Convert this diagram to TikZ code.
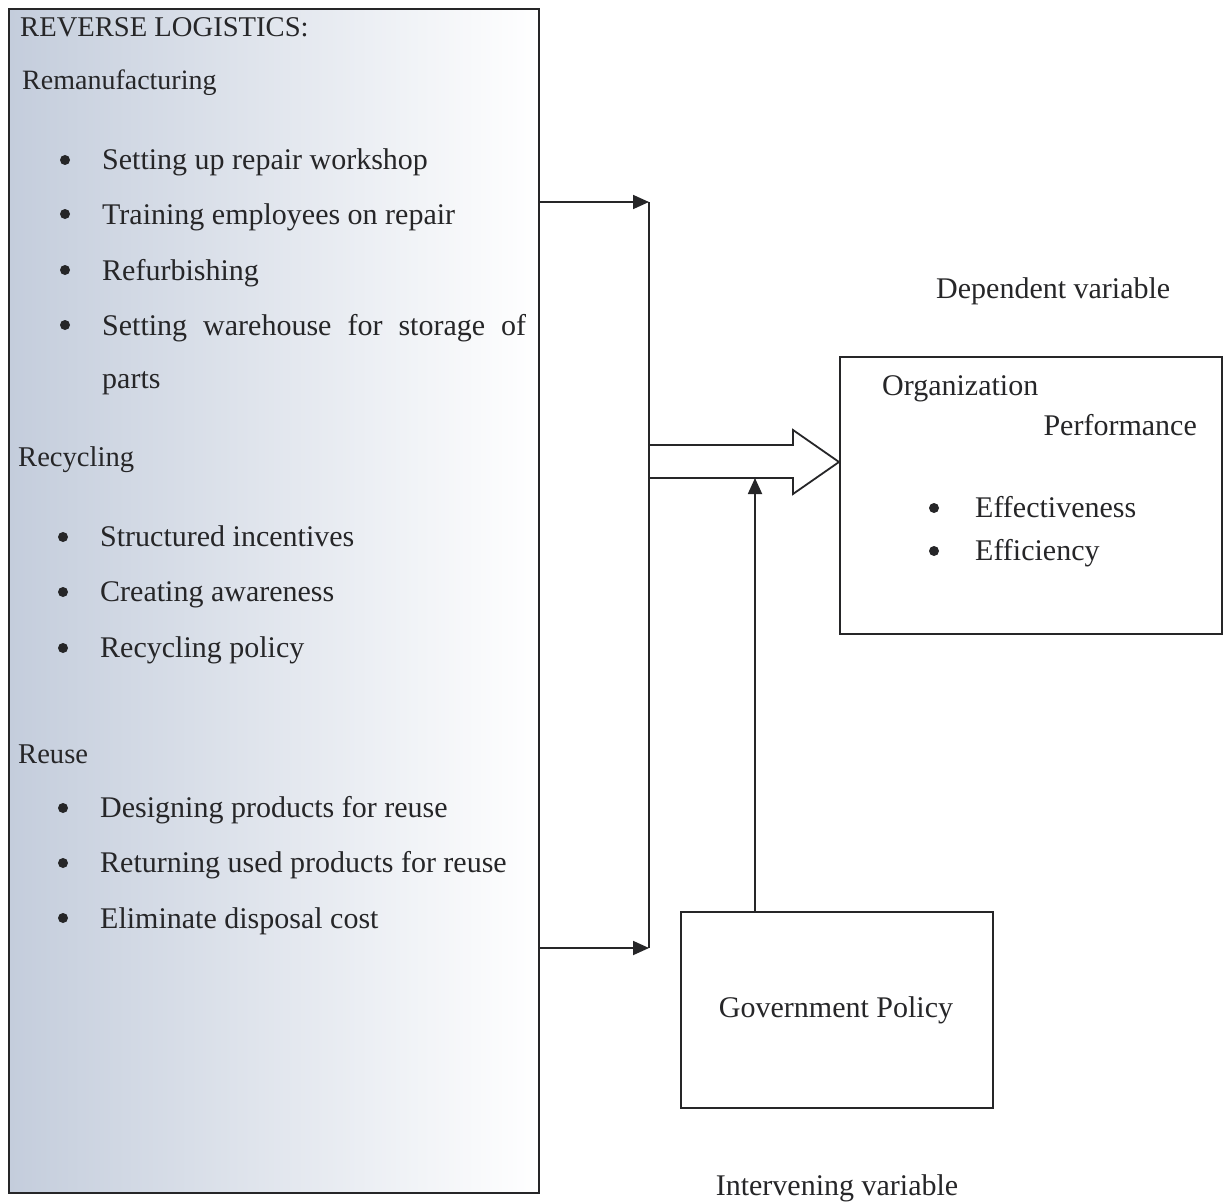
\documentclass[tikz,border=0pt]{standalone}
\usepackage{fontspec}
\setmainfont{Liberation Serif}
\usetikzlibrary{arrows.meta}
\definecolor{inkc}{RGB}{38,38,40}
\definecolor{shadeL}{RGB}{196,205,220}
\definecolor{shadeM}{RGB}{232,237,247}
\begin{document}
\begin{tikzpicture}[x=1pt,y=-1pt,
  line/.style={draw=inkc, line width=1.8pt},
  arr/.style={line, -{Triangle[length=16pt,width=14pt]}},
  txt/.style={anchor=base west, inner sep=0pt, font=\fontsize{30}{36}\selectfont, text=inkc},
  head/.style={txt, font=\fontsize{28.6}{34}\selectfont},
  bul/.style={circle, fill=inkc, inner sep=0pt, minimum size=10pt},
  boxst/.style={draw=inkc, line width=1.8pt, inner sep=0pt, anchor=north west}]
\useasboundingbox (0,0) rectangle (1224,1204);
\fill[white] (0,0) rectangle (1224,1204);

% left box
\node[boxst, minimum width=530pt, minimum height=1184pt,
  left color=shadeL, middle color=shadeM, right color=white] (L) at (8,8) {};
% right box
\node[boxst, minimum width=382pt, minimum height=277pt] (R) at (839,356) {};
% government box
\node[boxst, minimum width=312pt, minimum height=196pt] (G) at (680,911) {};

% left texts
\node[head] (t0) at (20,37) {REVERSE LOGISTICS:};
\node[head, font=\fontsize{28}{34}\selectfont] (t1) at (22,90) {Remanufacturing};
\node[bul] (b1) at (65,160) {}; \node[txt] (t2) at (102,170) {Setting up repair workshop};
\node[bul] (b2) at (65,214) {}; \node[txt] (t3) at (102,224) {Training employees on repair};
\node[bul] (b3) at (65,270) {}; \node[txt] (t4) at (102,280) {Refurbishing};
\node[bul] (b4) at (65,325) {}; \node[txt] (t5) at (102,335) {\makebox[424pt][s]{Setting warehouse for storage of}};
\node[txt] (t6) at (102,388) {parts};
\node[head] (t7) at (18,466) {Recycling};
\node[bul] (b5) at (63,537) {}; \node[txt] (t8) at (100,546) {Structured incentives};
\node[bul] (b6) at (63,592) {}; \node[txt] (t9) at (100,601) {Creating awareness};
\node[bul] (b7) at (63,648) {}; \node[txt] (t10) at (100,657) {Recycling policy};
\node[head] (t11) at (18,763) {Reuse};
\node[bul] (b8) at (63,808) {}; \node[txt] (t12) at (100,817) {Designing products for reuse};
\node[bul] (b9) at (63,863) {}; \node[txt] (t13) at (100,872) {Returning used products for reuse};
\node[bul] (b10) at (63,918) {}; \node[txt] (t14) at (100,928) {Eliminate disposal cost};

% right texts
\node[txt] (d1) at (936,298) {Dependent variable};
\node[txt] (r1) at (882,395) {Organization};
\node[txt, anchor=base east] (r2) at (1197,435) {Performance};
\node[bul] (b11) at (934,508) {}; \node[txt] (r3) at (975,517) {Effectiveness};
\node[bul] (b12) at (934,551) {}; \node[txt] (r4) at (975,560) {Efficiency};
\node[txt, anchor=base] (g1) at (836,1017) {Government Policy};
\node[txt, anchor=base] (i1) at (837,1195) {Intervening variable};

% connectors
\coordinate (jt) at (649,202);
\coordinate (jb) at (649,948);
\draw[arr] (L.east |- jt) -- (jt);
\draw[arr] (L.east |- jb) -- (jb);
\draw[line] (jt) -- (jb);

% big hollow arrow
\coordinate (tip) at (R.west |- 0,462);
\draw[line, line join=miter] (649,445) -- (793,445) -- (793,430) -- (tip)
   -- (793,494) -- (793,478) -- (649,478);
\coordinate (sb) at (755,478);
\draw[arr] (G.north -| sb) -- (sb);
\end{tikzpicture}
\end{document}
